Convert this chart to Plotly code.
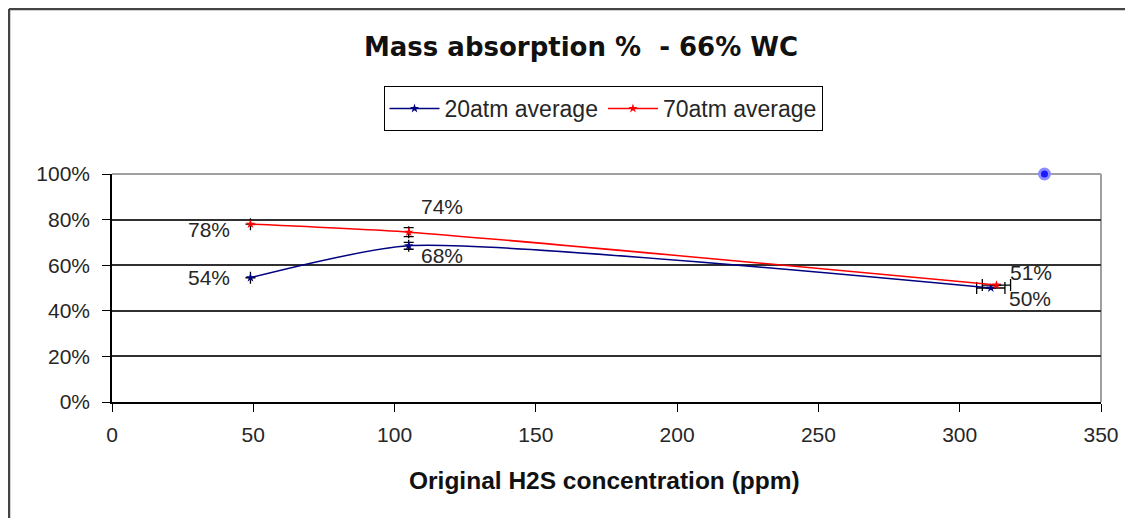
import plotly.graph_objects as go

# ---- data ----
x_20 = [49, 105, 311]
y_20 = [0.545, 0.685, 0.50]
lbl_20 = ["54%", "68%", "50%"]
xerr_20 = [0, 0, 5]
yerr_20 = [0, 0.015, 0]

x_70 = [49, 105, 313]
y_70 = [0.78, 0.745, 0.513]
lbl_70 = ["78%", "74%", "51%"]
xerr_70 = [0, 0, 5]
yerr_70 = [0, 0.02, 0]

x_extra = [330]
y_extra = [1.0]

x_ticks = [0, 50, 100, 150, 200, 250, 300, 350]
y_ticks = [0, 0.2, 0.4, 0.6, 0.8, 1.0]

FONT = "Liberation Sans, Arial, sans-serif"
TFONT = "DejaVu Sans, Verdana, sans-serif"
TXT = "#262626"

# plot area in figure pixels (page is offset by 8px)
L, R, T, B = 104, 1093, 166, 394
PW, PH = R - L, B - T

# label placement (anchor, xshift, yshift) per point
pos_20 = [("right", -18, 0), ("left", 10, -10), ("left", 16, -10)]
pos_70 = [("right", -18, -5), ("left", 10, 26), ("left", 12, 13)]

fig = go.Figure()

fig.add_trace(go.Scatter(
    x=x_20, y=y_20, name="20atm average", mode="lines+markers",
    line=dict(color="#000080", width=1.5, shape="spline", smoothing=0.6),
    marker=dict(symbol="star", size=7, color="#000080"),
    error_x=dict(type="data", array=xerr_20, color="black", thickness=1.3, width=6),
    error_y=dict(type="data", array=yerr_20, color="black", thickness=1.3, width=5),
))
fig.add_trace(go.Scatter(
    x=x_70, y=y_70, name="70atm average", mode="lines+markers",
    line=dict(color="#FF0000", width=1.5, shape="spline", smoothing=0.6),
    marker=dict(symbol="star", size=7, color="#FF0000"),
    error_x=dict(type="data", array=xerr_70, color="black", thickness=1.3, width=6),
    error_y=dict(type="data", array=yerr_70, color="black", thickness=1.3, width=5),
))
fig.add_trace(go.Scatter(
    x=x_extra, y=y_extra, mode="markers", showlegend=False, cliponaxis=False,
    marker=dict(symbol="circle", size=10, color="#1a1aff",
                line=dict(color="#8c8cff", width=3)),
))

annos = []
for xs, ys, ls, ps in [(x_20, y_20, lbl_20, pos_20), (x_70, y_70, lbl_70, pos_70)]:
    for xv, yv, lb, (anc, dx, dy) in zip(xs, ys, ls, ps):
        annos.append(dict(x=xv, y=yv, xref="x", yref="y", text=lb, showarrow=False,
                          xanchor=anc, yanchor="middle", xshift=dx, yshift=dy,
                          font=dict(family=FONT, size=21, color=TXT)))
annos.append(dict(text="<b>Original H2S concentration (ppm)</b>", xref="paper", yref="paper",
                  x=(596 - L) / PW, y=-(472 - B) / PH, showarrow=False,
                  xanchor="center", yanchor="middle",
                  font=dict(family=FONT, size=24.5, color="#111")))

fig.update_layout(
    width=1133, height=518,
    margin=dict(l=L, r=1133 - R, t=T, b=518 - B),
    paper_bgcolor="white", plot_bgcolor="white",
    font=dict(family=FONT, size=21, color=TXT),
    title=dict(text="<b>Mass absorption %  - 66% WC</b>", x=573 / 1133, xref="container",
               y=1 - 39 / 518, yref="container", xanchor="center", yanchor="middle",
               font=dict(family=TFONT, size=26, color="#111")),
    legend=dict(orientation="h", x=(595 - L) / PW, xanchor="center", y=(B - 78) / PH, yanchor="top",
                bordercolor="black", borderwidth=1, bgcolor="white",
                font=dict(family=FONT, size=23, color=TXT),
                itemwidth=50, tracegroupgap=0),
    xaxis=dict(range=[0, 350], tickvals=x_ticks, showgrid=False, zeroline=False,
               showline=True, linecolor="black", linewidth=1.5,
               ticks="outside", ticklen=8, tickcolor="black", ticklabelstandoff=5,
               tickfont=dict(family=FONT, size=21, color=TXT)),
    yaxis=dict(range=[0, 1], tickvals=y_ticks, tickformat=".0%", showgrid=True,
               gridcolor="#303030", gridwidth=1.5, zeroline=False,
               showline=True, linecolor="black", linewidth=1.5,
               ticks="outside", ticklen=8, tickcolor="black", ticklabelstandoff=8,
               tickfont=dict(family=FONT, size=21, color=TXT)),
    annotations=annos,
    shapes=[
        dict(type="line", xref="paper", yref="paper", x0=0, x1=1, y0=1, y1=1,
             line=dict(color="#a0a0a0", width=2), layer="between"),
        dict(type="line", xref="paper", yref="paper", x0=1, x1=1, y0=0, y1=1,
             line=dict(color="#a0a0a0", width=2), layer="between"),
        dict(type="line", xref="paper", yref="paper", x0=-(L - 1) / PW, x1=1.2,
             y0=(B - 1) / PH, y1=(B - 1) / PH, line=dict(color="#444", width=2.5)),
        dict(type="line", xref="paper", yref="paper", x0=-(L - 1) / PW, x1=-(L - 1) / PW,
             y0=-0.7, y1=(B - 1) / PH, line=dict(color="#444", width=2.5)),
    ],
)

fig.write_html("out.html")
